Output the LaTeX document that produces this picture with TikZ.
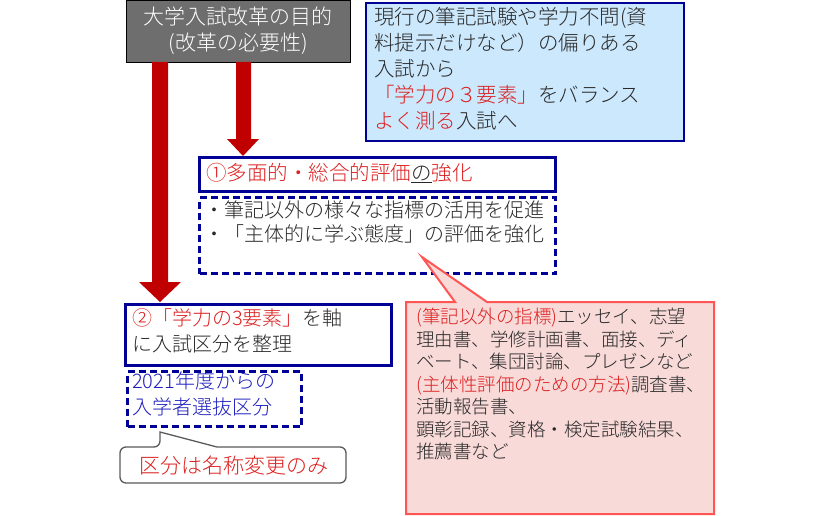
\documentclass[tikz,border=0pt]{standalone}
\usepackage{fontspec}
\setmainfont{Noto Sans CJK JP Light}
\begin{document}
\begin{tikzpicture}[x=1pt,y=-1pt,
  txt/.style={font=\fontsize{20.5}{26}\selectfont,inner sep=0pt,align=left,anchor=north west},
  navy/.style={draw={rgb,255:red,0;green,0;blue,150},line width=3pt},
  ndash/.style={navy,dash pattern=on 7pt off 4pt}]
\definecolor{rd}{RGB}{220,30,30}
\definecolor{darr}{RGB}{192,0,0}
\definecolor{txg}{RGB}{40,40,40}
\useasboundingbox (0,0) rectangle (840,516);
% top gray box
\node[draw=black,line width=0.8pt,fill={rgb,255:red,110;green,110;blue,110},minimum width=224pt,minimum height=62pt,anchor=north west,inner sep=0pt] (top) at (126,0) {};
\node[font=\fontsize{21}{26}\selectfont,text=white,align=center] (toptxt) at (238,31) {大学入試改革の目的\\(改革の必要性)};
% blue box
\node[draw={rgb,255:red,0;green,0;blue,150},line width=2pt,fill={rgb,255:red,204;green,232;blue,252},minimum width=318pt,minimum height=138pt,anchor=north west] (blue) at (365,2) {};
\node[txt,text=txg] (bluetxt) at (374,7) {現行の筆記試験や学力不問(資\\料提示だけなど）の偏りある\\入試から\\\textcolor{rd}{「学力の３要素」}をバランス\\\textcolor{rd}{よく測る}入試へ};
% arrows
\fill[darr] (152,62) -- (168,62) -- (168,282) -- (181,282) -- (160,302) -- (139,282) -- (152,282) -- cycle;
\fill[darr] (236,62) -- (251,62) -- (251,139) -- (259,139) -- (243,156) -- (227,139) -- (236,139) -- cycle;
% box 1
\node[navy,minimum width=356pt,minimum height=34pt,anchor=north west] (b1) at (198,156) {};
\node[txt,text=rd,anchor=west] (b1t) at (206,173) {①多面的・総合的評価\textcolor{txg}{\underline{の}}強化};
\node[ndash,minimum width=356pt,minimum height=76pt,anchor=north west] (d1) at (198,196) {};
\node[txt,text=txg,font=\fontsize{20}{24}\selectfont] (d1t) at (204,201) {・筆記以外の様々な指標の活用を促進\\・「主体的に学ぶ態度」の評価を強化};
% box 2
\node[navy,minimum width=266pt,minimum height=61pt,anchor=north west] (b2) at (124,303) {};
\node[txt,text=txg,font=\fontsize{20}{26}\selectfont] (b2t) at (132,308) {\textcolor{rd}{②「学力の3要素」}を軸\\に入試区分を整理};
\node[ndash,minimum width=174pt,minimum height=55pt,anchor=north west] (d2) at (126,370) {};
\node[txt,text={rgb,255:red,30;green,30;blue,190},font=\fontsize{20}{26}\selectfont] (d2t) at (132,372) {2021年度からの\\入学者選抜区分};
% gray callout
\draw[draw={rgb,255:red,90;green,90;blue,90},line width=1.3pt,fill=white,rounded corners=6pt]
  (120,447) -- (160,447) [sharp corners]-- (160,432) -- (217,447) [rounded corners=6pt]-- (346,447) -- (346,483) -- (120,483) -- cycle;
\node[txt,text=rd,anchor=west,font=\fontsize{21}{26}\selectfont] (ct) at (139,466) {区分は名称変更のみ};
% pink callout
\draw[draw={rgb,255:red,255;green,85;blue,85},line width=2pt,fill={rgb,255:red,248;green,218;blue,216}]
  (406,302) -- (455,302) -- (422,257) -- (487,302) -- (714,302) -- (714,514) -- (406,514) -- cycle;
\node[txt,text=txg,font=\fontsize{18.5}{22.5}\selectfont] (pt) at (416,308) {\textcolor{rd}{(筆記以外の指標)}エッセイ、志望\\理由書、学修計画書、面接、ディ\\ベート、集団討論、プレゼンなど\\\textcolor{rd}{(主体性評価のための方法)}調査書、\\活動報告書、\\顕彰記録、資格・検定試験結果、\\推薦書など};
\end{tikzpicture}
\end{document}
